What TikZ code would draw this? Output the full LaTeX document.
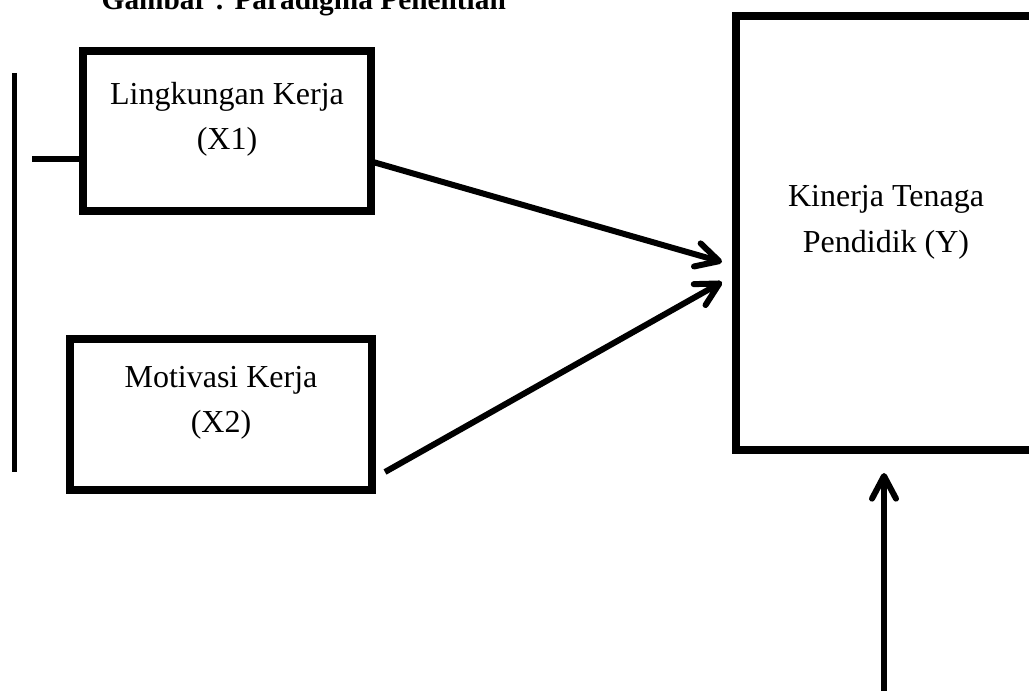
\documentclass[tikz,border=0pt]{standalone}
\usepackage{fontspec}
\setmainfont{Liberation Serif}
\usetikzlibrary{arrows.meta}

\begin{document}
\begin{tikzpicture}[x=0.75pt,y=-0.75pt,
	kotak/.style={draw,line width=6pt,inner sep=0pt},
	teks/.style={align=center,font=\fontsize{24}{34}\selectfont},
	panah/.style={line width=4.5pt,-{Straight Barb[length=17pt,width=18pt,round]}}]
	\useasboundingbox (0,0) rectangle (1029,691);
	\node[anchor=base west,font=\fontsize{22}{26}\selectfont\bfseries] (judul) at (97,10) {Gambar : Paradigma Penelitian};
	% kotak variabel
	\node[kotak,minimum width=216pt,minimum height=120pt] (x1) at (227,131) {};
	\node[kotak,minimum width=226.5pt,minimum height=113.25pt] (x2) at (221,414.5) {};
	\node[kotak,minimum width=225pt,minimum height=325.5pt] (y) at (886,233) {};
	\node[teks] (tx1) at ([yshift=9pt]x1.center) {Lingkungan Kerja\\(X1)};
	\node[teks] (tx2) at ([yshift=9pt]x2.center) {Motivasi Kerja\\(X2)};
	\node[teks] (ty) at ([yshift=8pt]y.center) {Kinerja Tenaga\\Pendidik (Y)};
	% garis kiri
	\coordinate (ga) at (14.5,73);
	\coordinate (gb) at (14.5,472);
	\coordinate (gc) at (32,159);
	\draw[line width=3.75pt] (ga) -- (gb);
	\draw[line width=4pt] (gc) -- (gc -| x1.west);
	% panah
	\coordinate (p1) at (373,162);
	\coordinate (p2) at (722,262);
	\coordinate (p3) at (385,472);
	\coordinate (p4) at (722,282);
	\coordinate (p5) at (884,700);
	\coordinate (p6) at (884,473);
	\draw[panah] (p1) -- (p2);
	\draw[panah] (p3) -- (p4);
	\draw[panah] (p5) -- (p6);
\end{tikzpicture}
\end{document}
